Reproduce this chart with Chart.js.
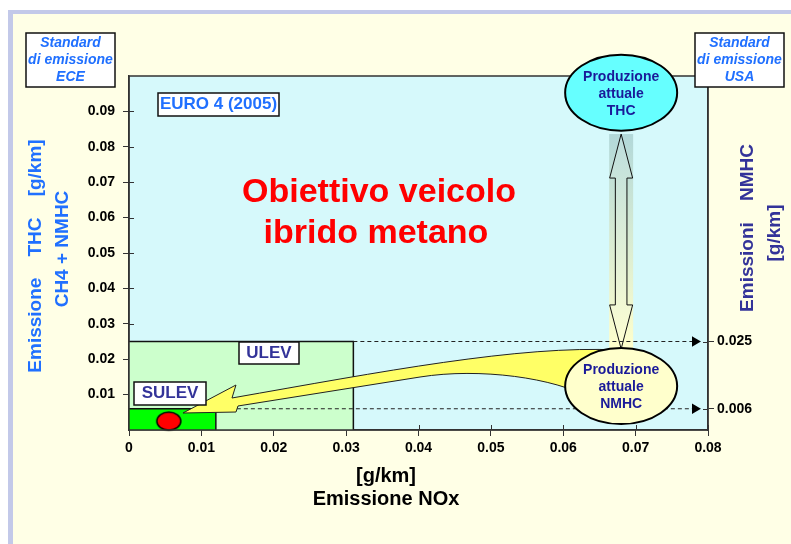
<!DOCTYPE html>
<html>
<head>
<meta charset="utf-8">
<script src="https://cdn.jsdelivr.net/npm/chart.js@4.4.1/dist/chart.umd.min.js"></script>
<style>
  html, body { margin: 0; padding: 0; background: #fff; }
  canvas { display: block; }
</style>
</head>
<body>
<canvas id="chart" width="791" height="544"></canvas>
<script>
// Emission limits (g/km): NOx on x, NMHC on y
const standards   = ['ULEV', 'SULEV'];
const noxLimits   = [0.031, 0.012];
const nmhcLimits  = [0.025, 0.006];
// Hybrid methane vehicle target (NOx, NMHC)
const targetNox   = [0.0055];
const targetNmhc  = [0.0025];
// Axis ticks
const xTicks      = [0, 0.01, 0.02, 0.03, 0.04, 0.05, 0.06, 0.07, 0.08];
const yTicks      = [0.01, 0.02, 0.03, 0.04, 0.05, 0.06, 0.07, 0.08, 0.09];
const rightTicks  = [0.006, 0.025];

// Callout layout, in axis units
const callout = { x: 0.068, thcY: 0.0953, nmhcY: 0.0124, arrowTop: 0.0836, arrowBottom: 0.0229, markerEnd: 0.0782 };

const SANS   = "'Liberation Sans', Arial, sans-serif";
const BLUE   = '#2070FF';
const NAVY   = '#1A1A99';
const INDIGO = '#333399';

const fills = { ULEV: '#CCFFCC', SULEV: '#00FF00' };

// Red ellipse used as the target marker
const dot = document.createElement('canvas');
dot.width = 28; dot.height = 22;
(function () {
  const d = dot.getContext('2d');
  d.beginPath();
  d.ellipse(14, 11, 12, 9, 0, 0, Math.PI * 2);
  d.fillStyle = '#FF0000';
  d.fill();
  d.lineWidth = 1.5;
  d.strokeStyle = '#000';
  d.stroke();
})();

// Higher "order" is painted first, so the larger box sits underneath
const datasets = [];
standards.forEach((name, i) => {
  datasets.push({
    label: name,
    order: 10 - i,
    showLine: true,
    data: [{ x: 0, y: nmhcLimits[i] }, { x: noxLimits[i], y: nmhcLimits[i] }, { x: noxLimits[i], y: 0 }],
    fill: 'origin',
    backgroundColor: fills[name],
    borderColor: '#111',
    borderWidth: 1.5,
    pointRadius: 0,
    tension: 0
  });
});
standards.forEach((name, i) => {
  datasets.push({
    label: name + ' limit',
    order: 5,
    showLine: true,
    data: [{ x: noxLimits[i], y: nmhcLimits[i] }, { x: callout.markerEnd, y: nmhcLimits[i] }],
    fill: false,
    borderColor: '#222',
    borderWidth: 1,
    borderDash: [4, 3],
    pointRadius: [0, 6],
    pointStyle: 'triangle',
    rotation: 90,
    pointBackgroundColor: '#000',
    pointBorderColor: '#000',
    pointBorderWidth: 0
  });
});
datasets.push({
  label: 'Obiettivo',
  order: 1,
  data: targetNox.map((x, i) => ({ x, y: targetNmhc[i] })),
  pointStyle: dot,
  pointRadius: 12,
  clip: false
});

function txt(ctx, s, x, y, font, color, align, rot) {
  ctx.save();
  ctx.translate(x, y);
  if (rot) ctx.rotate(rot);
  ctx.font = font;
  ctx.fillStyle = color;
  ctx.textAlign = align || 'center';
  ctx.textBaseline = 'middle';
  ctx.fillText(s, 0, 0);
  ctx.restore();
}

function labelBox(ctx, x0, y0, x1, y1) {
  ctx.save();
  ctx.fillStyle = '#fff';
  ctx.fillRect(x0, y0, x1 - x0, y1 - y0);
  ctx.lineWidth = 1.5;
  ctx.strokeStyle = '#111';
  ctx.strokeRect(x0, y0, x1 - x0, y1 - y0);
  ctx.restore();
}

function ellipseCallout(ctx, cx, cy, fill, lines) {
  ctx.save();
  ctx.beginPath();
  ctx.ellipse(cx, cy, 56, 38, 0, 0, Math.PI * 2);
  ctx.fillStyle = fill;
  ctx.fill();
  ctx.lineWidth = 2;
  ctx.strokeStyle = '#000';
  ctx.stroke();
  ctx.restore();
  lines.forEach((s, i) => txt(ctx, s, cx, cy - 15.5 + i * 17, 'bold 14px ' + SANS, NAVY));
}

const decor = {
  id: 'decor',
  beforeDraw(chart) {
    const { ctx, chartArea: a, width, height } = chart;
    ctx.save();
    ctx.fillStyle = '#fff';
    ctx.fillRect(0, 0, width, height);
    ctx.fillStyle = '#C3C9E9';
    ctx.fillRect(8, 10, width - 8, height - 10);
    ctx.fillStyle = '#FFFFE6';
    ctx.fillRect(13, 14, width - 13, height - 14);
    ctx.fillStyle = '#D6F9FB';
    ctx.fillRect(a.left, a.top, a.right - a.left, a.bottom - a.top);
    ctx.restore();
  },
  beforeDatasetsDraw(chart) {
    const { ctx, chartArea: a, scales: { x, y, y2 } } = chart;
    ctx.save();
    // inner halves of the tick marks
    ctx.strokeStyle = '#333';
    ctx.lineWidth = 1;
    ctx.beginPath();
    xTicks.forEach(v => { const px = Math.round(x.getPixelForValue(v)) + 0.5; ctx.moveTo(px, a.bottom); ctx.lineTo(px, a.bottom - 5); });
    yTicks.forEach(v => { const py = Math.round(y.getPixelForValue(v)) + 0.5; ctx.moveTo(a.left, py); ctx.lineTo(a.left + 5, py); });
    rightTicks.forEach(v => { const py = Math.round(y2.getPixelForValue(v)) + 0.5; ctx.moveTo(a.right, py); ctx.lineTo(a.right - 5, py); });
    ctx.stroke();

    // THC -> NMHC double arrow with its shaded band
    const cx = x.getPixelForValue(callout.x);
    const yt = y.getPixelForValue(callout.arrowTop);
    const yb = y.getPixelForValue(callout.arrowBottom);
    const g = ctx.createLinearGradient(0, yt, 0, yb);
    g.addColorStop(0, '#B2D8D9');
    g.addColorStop(1, '#FFFFCC');
    ctx.fillStyle = g;
    ctx.fillRect(cx - 12, yt, 24, yb - yt + 4);
    const hw = 11.5, sw = 5.8, hl = 44;
    ctx.beginPath();
    ctx.moveTo(cx, yt);
    ctx.lineTo(cx + hw, yt + hl);
    ctx.lineTo(cx + sw, yt + hl);
    ctx.lineTo(cx + sw, yb - hl);
    ctx.lineTo(cx + hw, yb - hl);
    ctx.lineTo(cx, yb);
    ctx.lineTo(cx - hw, yb - hl);
    ctx.lineTo(cx - sw, yb - hl);
    ctx.lineTo(cx - sw, yt + hl);
    ctx.lineTo(cx - hw, yt + hl);
    ctx.closePath();
    const g2 = ctx.createLinearGradient(0, yt, 0, yb);
    g2.addColorStop(0, '#BCDDDD');
    g2.addColorStop(1, '#FFFFD2');
    ctx.fillStyle = g2;
    ctx.fill();
    ctx.lineWidth = 1;
    ctx.strokeStyle = '#111';
    ctx.stroke();
    ctx.restore();
  },
  afterDatasetsDraw(chart) {
    const { ctx, chartArea: a, scales: { x, y } } = chart;
    const P = (vx, vy) => [x.getPixelForValue(vx), y.getPixelForValue(vy)];

    // plot frame
    ctx.save();
    ctx.lineWidth = 1.5;
    ctx.strokeStyle = '#333';
    ctx.strokeRect(a.left, a.top, a.right - a.left, a.bottom - a.top);

    // curved yellow arrow from current NMHC production to the target
    ctx.beginPath();
    ctx.moveTo(...P(0.01423, 0.00904));
    ctx.bezierCurveTo(...P(0.03468, 0.01638), ...P(0.05402, 0.02401), ...P(0.06756, 0.02260));
    ctx.lineTo(...P(0.06370, 0.00904));
    ctx.bezierCurveTo(...P(0.05886, 0.01469), ...P(0.04850, 0.01768), ...P(0.04021, 0.01497));
    ctx.lineTo(...P(0.01506, 0.00678));
    ctx.lineTo(...P(0.01478, 0.00508));
    ctx.lineTo(...P(0.00746, 0.00480));
    ctx.lineTo(...P(0.01478, 0.01271));
    ctx.closePath();
    ctx.fillStyle = '#FFFF66';
    ctx.fill();
    ctx.lineWidth = 1;
    ctx.strokeStyle = '#222';
    ctx.stroke();
    ctx.restore();

    // current production callouts
    const cx = x.getPixelForValue(callout.x);
    ellipseCallout(ctx, cx, y.getPixelForValue(callout.thcY), '#66FFFF', ['Produzione', 'attuale', 'THC']);
    ellipseCallout(ctx, cx, y.getPixelForValue(callout.nmhcY), '#FFFFCC', ['Produzione', 'attuale', 'NMHC']);

    // standard names
    labelBox(ctx, 239, 342, 299, 364);
    txt(ctx, 'ULEV', 269, 353.5, 'bold 17px ' + SANS, INDIGO);
    labelBox(ctx, 134, 382, 206, 405);
    txt(ctx, 'SULEV', 170, 393.5, 'bold 17px ' + SANS, INDIGO);
    labelBox(ctx, 158, 93, 279, 116);
    txt(ctx, 'EURO 4 (2005)', 218.5, 104.5, 'bold 17px ' + SANS, BLUE);

    // corner boxes
    const corner = (x0, lines) => {
      labelBox(ctx, x0, 33, x0 + 89, 87);
      lines.forEach((s, i) => txt(ctx, s, x0 + 44.5, 43.5 + i * 17, 'italic bold 14px ' + SANS, BLUE));
    };
    corner(26, ['Standard', 'di emissione', 'ECE']);
    corner(695, ['Standard', 'di emissione', 'USA']);

    // headline
    txt(ctx, 'Obiettivo veicolo', 379, 193, 'bold 34px ' + SANS, '#FF0000');
    txt(ctx, 'ibrido metano', 376, 234, 'bold 34px ' + SANS, '#FF0000');

    // axis titles
    const up = -Math.PI / 2;
    txt(ctx, 'Emissione    THC    [g/km]', 36, 256, 'bold 19px ' + SANS, BLUE, 'center', up);
    txt(ctx, 'CH4 + NMHC', 62.5, 249, 'bold 19px ' + SANS, BLUE, 'center', up);
    txt(ctx, 'Emissioni    NMHC', 748, 228, 'bold 19px ' + SANS, INDIGO, 'center', up);
    txt(ctx, '[g/km]', 775, 233, 'bold 19px ' + SANS, INDIGO, 'center', up);
    txt(ctx, '[g/km]', 386, 476, 'bold 20px ' + SANS, '#000');
    txt(ctx, 'Emissione NOx', 386, 499, 'bold 20px ' + SANS, '#000');
  }
};

const tickFont = { family: SANS, size: 14, weight: 'bold' };
const gridOpts = { drawOnChartArea: false, drawTicks: true, tickLength: 6, color: '#333', lineWidth: 1 };
const borderOpts = { display: true, color: '#333', width: 1.5 };

new Chart(document.getElementById('chart'), {
  type: 'scatter',
  data: { datasets },
  plugins: [decor],
  options: {
    responsive: false,
    animation: false,
    events: [],
    layout: { padding: { top: 76, left: 0, right: 0, bottom: 0 } },
    plugins: { legend: { display: false }, tooltip: { enabled: false } },
    scales: {
      x: {
        type: 'linear', min: 0, max: 0.08, position: 'bottom',
        afterBuildTicks: s => { s.ticks = xTicks.map(v => ({ value: v })); },
        afterFit: s => { s.height = 114; },
        ticks: { font: tickFont, color: '#000', padding: 4, maxRotation: 0, autoSkip: false,
                 callback: v => (v === 0 ? '0' : v.toFixed(2)) },
        grid: gridOpts, border: borderOpts
      },
      y: {
        type: 'linear', min: 0, max: 0.1, position: 'left',
        afterBuildTicks: s => { s.ticks = yTicks.map(v => ({ value: v })); },
        afterFit: s => { s.width = 129; },
        ticks: { font: tickFont, color: '#000', padding: 8, autoSkip: false, callback: v => v.toFixed(2) },
        grid: gridOpts, border: borderOpts
      },
      y2: {
        type: 'linear', min: 0, max: 0.1, position: 'right',
        afterBuildTicks: s => { s.ticks = rightTicks.map(v => ({ value: v })); },
        afterFit: s => { s.width = 83; },
        ticks: { font: tickFont, color: '#000', padding: 3, autoSkip: false, callback: v => v.toFixed(3) },
        grid: gridOpts, border: borderOpts
      }
    }
  }
});
</script>
</body>
</html>
